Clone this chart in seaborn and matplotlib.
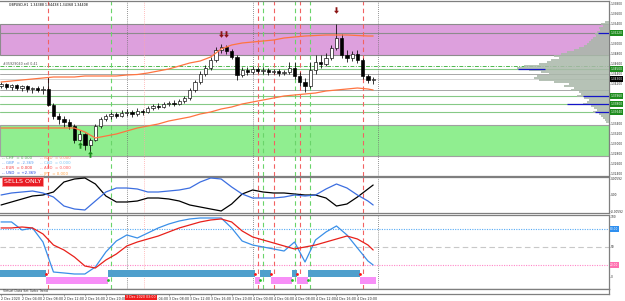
import numpy as np
import pandas as pd
import matplotlib
matplotlib.use("Agg")
import matplotlib.pyplot as plt
import seaborn as sns

# ---------------- data ----------------
bar_idx = list(range(72))
open_ = [1.3416,1.3420,1.3414,1.3418,1.3412,1.3416,1.3410,1.3412,1.3408,1.3410,
         1.3378,1.3356,1.3350,1.3344,1.3336,1.3308,1.3320,1.3298,1.3308,1.3336,
         1.3350,1.3356,1.3360,1.3356,1.3362,1.3364,1.3360,1.3366,1.3364,1.3372,
         1.3376,1.3374,1.3380,1.3382,1.3380,1.3386,1.3392,1.3408,1.3424,1.3440,
         1.3452,1.3468,1.3488,1.3494,1.3486,1.3474,1.3438,1.3448,1.3444,1.3450,
         1.3446,1.3448,1.3444,1.3446,1.3442,1.3444,1.3452,1.3436,1.3424,1.3416,
         1.3448,1.3464,1.3460,1.3472,1.3492,1.3512,1.3478,1.3472,1.3480,1.3468,
         1.3436,1.3428]
close = [1.3420,1.3414,1.3418,1.3412,1.3416,1.3410,1.3412,1.3408,1.3410,1.3378,
         1.3356,1.3350,1.3344,1.3336,1.3308,1.3320,1.3298,1.3308,1.3336,1.3350,
         1.3356,1.3360,1.3356,1.3362,1.3364,1.3360,1.3366,1.3364,1.3372,1.3376,
         1.3374,1.3380,1.3382,1.3380,1.3386,1.3392,1.3408,1.3424,1.3440,1.3452,
         1.3468,1.3488,1.3494,1.3486,1.3474,1.3438,1.3448,1.3444,1.3450,1.3446,
         1.3448,1.3444,1.3446,1.3442,1.3444,1.3452,1.3436,1.3424,1.3416,1.3448,
         1.3464,1.3460,1.3472,1.3492,1.3512,1.3478,1.3472,1.3480,1.3468,1.3436,
         1.3428,1.3430]
high = [1.3424,1.3422,1.3420,1.3420,1.3418,1.3418,1.3414,1.3416,1.3416,1.3434,
        1.3382,1.3362,1.3356,1.3350,1.3340,1.3328,1.3322,1.3312,1.3340,1.3354,
        1.3360,1.3364,1.3364,1.3368,1.3370,1.3368,1.3372,1.3370,1.3376,1.3380,
        1.3382,1.3384,1.3386,1.3388,1.3390,1.3396,1.3412,1.3428,1.3446,1.3458,
        1.3474,1.3494,1.3500,1.3498,1.3490,1.3478,1.3454,1.3454,1.3456,1.3454,
        1.3454,1.3452,1.3450,1.3450,1.3448,1.3464,1.3464,1.3444,1.3432,1.3464,
        1.3478,1.3478,1.3482,1.3498,1.3540,1.3520,1.3488,1.3486,1.3488,1.3472,
        1.3440,1.3434]
low = [1.3412,1.3410,1.3408,1.3408,1.3406,1.3404,1.3402,1.3404,1.3400,1.3376,
       1.3350,1.3340,1.3334,1.3330,1.3302,1.3306,1.3288,1.3284,1.3306,1.3332,
       1.3346,1.3350,1.3352,1.3354,1.3356,1.3354,1.3356,1.3358,1.3362,1.3368,
       1.3370,1.3372,1.3376,1.3376,1.3378,1.3382,1.3388,1.3404,1.3420,1.3436,
       1.3448,1.3464,1.3482,1.3480,1.3470,1.3428,1.3434,1.3438,1.3440,1.3442,
       1.3440,1.3438,1.3440,1.3436,1.3438,1.3440,1.3430,1.3416,1.3404,1.3412,
       1.3440,1.3452,1.3456,1.3468,1.3488,1.3472,1.3464,1.3466,1.3462,1.3430,
       1.3422,1.3420]

line_hours = [0,2,4,6,8,10,12,14,16,18,20,22,24,26,28,30,32,34,36,38,40,42,44,
              46,48,50,52,54,56,58,60,62,64,66,68,70,71]
fast_ma = [1.3424,1.3426,1.3428,1.3430,1.3432,1.3434,1.3434,1.3434,1.3436,1.3436,
           1.3436,1.3436,1.3438,1.3439,1.3442,1.3446,1.3450,1.3456,1.3462,1.3466,
           1.3474,1.3490,1.3498,1.3502,1.3504,1.3506,1.3508,1.3512,1.3514,1.3516,
           1.3517,1.3518,1.3518,1.3518,1.3517,1.3516,1.3516]
slow_ma = [1.3332,1.3332,1.3332,1.3332,1.3332,1.3332,1.3332,1.3332,1.3324,1.3312,
           1.3316,1.3320,1.3326,1.3332,1.3336,1.3340,1.3346,1.3350,1.3354,1.3360,
           1.3364,1.3370,1.3374,1.3380,1.3384,1.3388,1.3392,1.3396,1.3398,1.3400,
           1.3402,1.3406,1.3408,1.3410,1.3412,1.3410,1.3408]

# strength indicator (x 1e-3)
strength_black = [-3.33,-2.33,-1.33,-0.33,0,1.0,4.33,5.33,5.67,3.67,-0.33,-2.33,
                  -2.33,-2.0,-1.0,-1.0,-1.33,-2.0,-3.33,-4.0,-4.67,-5.33,-3.0,0.33,
                  1.67,1.0,0.67,0.67,0.33,0,0,-1.0,-3.67,-3.0,-0.67,2.0,3.33]
strength_blue = [0,0.67,1.0,1.33,0.67,-0.67,-3.67,-4.67,-5.0,-2.0,1.0,2.33,2.33,
                 2.0,1.0,1.0,1.33,1.67,2.33,4.33,5.67,5.33,2.67,0.33,-1.0,-1.0,
                 -1.0,-0.67,0,-0.33,0,2.0,3.67,2.33,0,-2.0,-3.33]

# oscillator
osc_blue = [91.7,91.7,78.3,81.7,58.3,8.3,6.7,5.0,5.0,16.7,41.7,60.0,70.0,65.0,73.3,
            81.7,88.3,93.3,96.7,98.3,98.3,98.3,81.7,60.0,53.3,50.0,46.7,43.3,58.3,
            25.0,61.7,75.0,85.0,70.0,48.3,26.7,20.0]
osc_red = [81.7,81.7,83.3,81.7,71.7,53.3,45.0,33.3,18.3,15.0,28.3,38.3,51.7,58.3,
           63.3,68.3,75.0,81.7,86.7,91.7,95.0,96.7,91.7,76.7,66.7,61.7,56.7,51.7,
           46.7,50.0,53.3,58.3,63.3,68.3,63.3,53.3,45.0]

# trend state segments (first bar, last bar, state: 1 buy / -1 sell)
seg_start = [0, 9, 21, 49, 50, 52, 56, 57, 59, 69]
seg_end   = [8, 20, 48, 49, 51, 55, 56, 58, 68, 71]
seg_state = [1, -1, 1, -1, 1, -1, 1, -1, 1, -1]
sell_bars = [9, 49, 52, 57, 69]
buy_bars = [21, 50, 56, 59]
separators = [24, 48, 72]
crosshair_hour = 27.2

up_arrow_bars = [15, 17]
up_arrow_price = [1.3297, 1.3279]
down_arrow_bars = [42, 43, 64]
down_arrow_price = [1.3520, 1.3520, 1.3568]

# volume profile
profile_levels = [1.3544,1.3540,1.3536,1.3532,1.3528,1.3524,1.3520,1.3516,1.3512,1.3508,
                  1.3504,1.3500,1.3496,1.3492,1.3488,1.3484,1.3480,1.3476,1.3472,1.3468,
                  1.3464,1.3460,1.3456,1.3452,1.3448,1.3444,1.3440,1.3436,1.3432,1.3428,
                  1.3424,1.3420,1.3416,1.3412,1.3408,1.3404,1.3400,1.3396,1.3392,1.3388,
                  1.3384,1.3380,1.3376,1.3372,1.3368,1.3364,1.3360,1.3356,1.3352,1.3348,
                  1.3344]
profile_volume = [4,8,6,10,9,12,14,13,16,18,20,22,25,30,35,42,48,55,50,58,62,70,85,92,
                  80,68,60,72,75,70,55,40,45,35,38,30,28,32,25,20,22,26,18,15,12,16,
                  10,8,6,4,3]

price_ticks = [1.3240,1.3260,1.3280,1.3300,1.3320,1.3340,1.3360,1.3380,1.3400,1.3420,
               1.3440,1.3460,1.3480,1.3500,1.3520,1.3540,1.3560,1.3580]
green_box_prices = [1.3522, 1.3450, 1.3396, 1.3380, 1.3364]
bid_price = 1.3430

time_ticks = [0,4,8,12,16,20,24,28,32,36,40,44,48,52,56,60,64,68]
time_labels = ["2 Dec 2020","2 Dec 04:00","2 Dec 08:00","2 Dec 12:00","2 Dec 16:00",
               "2 Dec 20:00","3 Dec 00:00","3 Dec 04:00","3 Dec 08:00","3 Dec 12:00",
               "3 Dec 16:00","3 Dec 20:00","4 Dec 00:00","4 Dec 04:00","4 Dec 08:00",
               "4 Dec 12:00","4 Dec 16:00","4 Dec 20:00"]

currencies_left = ["CHF", "GBP", "EUR", "USD"]
values_left = ["0.000", "-2.369", "0.000", "+2.369"]
colors_left = ["#4fae4f", "#5b9cf0", "#f03030", "#2040e0"]
currencies_right = ["NZD", "CAD", "AUD", "JPY"]
values_right = ["0.000", "0.000", "0.000", "0.000"]
colors_right = ["#ff8c60", "#7cc4f4", "#ff5a5a", "#ffa040"]

# ---------------- figure ----------------
sns.set_style("white")
plt.rcParams['font.family'] = ['DejaVu Sans']

W, H = 625, 301
fig = plt.figure(figsize=(W / 100, H / 100), dpi=100)
fig.patch.set_facecolor("white")


def pbox(top, bottom, left=0, right=609):
    return [left / W, 1 - bottom / H, (right - left) / W, (bottom - top) / H]


ax = fig.add_axes(pbox(1, 176))
ax1 = fig.add_axes(pbox(177, 213), sharex=ax)
ax2 = fig.add_axes(pbox(215, 289), sharex=ax)
ax3 = fig.add_axes(pbox(289, 294), sharex=ax)

for a in (ax, ax1, ax2, ax3):
    a.set_facecolor("white")
    a.spines['left'].set_visible(False)
    for s in ('top', 'bottom', 'right'):
        a.spines[s].set_color('#7f7f7f')
        a.spines[s].set_linewidth(0.9)
    a.yaxis.tick_right()
    a.tick_params(axis='y', labelsize=2.1, length=1.0, width=0.4, pad=0.4,
                  color='#606060')
    a.tick_params(axis='x', bottom=False, labelbottom=False)
    a.grid(False)

ax.set_xlim(-0.2, 116)

# ---- main price panel ----
ax.set_ylim(1.3236, 1.3586)
ax.axhspan(1.3478, 1.3540, facecolor='#dda0dd', edgecolor='#8c8c8c', lw=0.8, zorder=1)
ax.axhline(1.3522, color='#8c8c8c', lw=0.8, zorder=1.5)
ax.axhspan(1.3276, 1.3338, facecolor='#90ee90', edgecolor='#a0a0a0', lw=0.8, zorder=1)

hlines = [(1.3456, '#4cb84c', (0, (4, 1.5, 1, 1.5)), 0.7),
          (1.3450, '#86c986', '-', 0.8),
          (1.3440, '#a8a8a8', '-', 0.7),
          (bid_price, '#d6d6d6', '-', 0.7),
          (1.3408, '#a8a8a8', '-', 0.7),
          (1.3396, '#86c986', '-', 0.8),
          (1.3380, '#86c986', '-', 0.8),
          (1.3364, '#86c986', '-', 0.8)]
for p, col, ls, lw in hlines:
    ax.axhline(p, color=col, ls=ls, lw=lw, zorder=1.5)

# blue level markers on the right
blue_segs = [(1.3522, 113.9), (1.3396, 111.0), (1.3380, 108.0), (1.3364, 113.3)]
for p, x0 in blue_segs:
    ax.hlines(p, x0, 116, color='#1414c8', lw=0.9, zorder=7)
ax.hlines(1.3450, 98.7, 103.8, color='#1414c8', lw=0.9, zorder=7)

# volume profile
axp = ax.inset_axes([500 / 609, 0, 109 / 609, 1], sharey=ax)
axp.barh(profile_levels, profile_volume, height=0.00036, color='#a9b8a9',
         edgecolor='none', alpha=0.85)
axp.set_xlim(109, 0)
axp.patch.set_alpha(0)
axp.axis('off')

# candles
x = np.array(bar_idx, dtype=float)
o = np.array(open_)
c = np.array(close)
bull = c >= o
ax.vlines(x, low, high, color='black', lw=0.55, zorder=5)
ax.bar(x[bull], (c - o)[bull], bottom=o[bull], width=0.62, color='white',
       edgecolor='black', lw=0.45, zorder=6)
ax.bar(x[~bull], (c - o)[~bull], bottom=o[~bull], width=0.62, color='black',
       edgecolor='black', lw=0.45, zorder=6)

# moving averages
sns.lineplot(x=line_hours, y=fast_ma, ax=ax, color='#ff7440', lw=0.9, zorder=7)
sns.lineplot(x=line_hours, y=slow_ma, ax=ax, color='#ff7440', lw=0.9, zorder=7)

# arrows
up_marker = [(0, 1), (-0.75, 0.1), (-0.28, 0.1), (-0.28, -1), (0.28, -1),
             (0.28, 0.1), (0.75, 0.1), (0, 1)]
down_marker = [(px, -py) for px, py in up_marker]
ax.scatter(up_arrow_bars, up_arrow_price, marker=up_marker, s=22,
           color='#1a8a1a', zorder=8, linewidths=0)
ax.scatter(down_arrow_bars, down_arrow_price, marker=down_marker, s=22,
           color='#8b1414', zorder=8, linewidths=0)

# price axis labels
box_prices = green_box_prices + [bid_price]
shown_ticks = [t for t in price_ticks if min(abs(t - b) for b in box_prices) > 0.0009]
ax.set_yticks(shown_ticks)
ax.set_yticklabels([f"{t:.5f}" for t in shown_ticks])
ytr = ax.get_yaxis_transform()
for p in green_box_prices:
    ax.text(1.002, p, f"{p:.5f}", transform=ytr, fontsize=2.1, color='white',
            va='center', ha='left', clip_on=False, zorder=10,
            bbox=dict(boxstyle='square,pad=0.2', fc='#1e8c1e', ec='none'))
ax.text(1.002, bid_price, f"{bid_price:.5f}", transform=ytr, fontsize=2.1,
        color='white', va='center', ha='left', clip_on=False, zorder=10,
        bbox=dict(boxstyle='square,pad=0.2', fc='black', ec='none'))

# ---- strength panel ----
ax1.set_ylim(-6, 6)
sns.lineplot(x=line_hours, y=strength_black, ax=ax1, color='black', lw=0.9, zorder=5)
sns.lineplot(x=line_hours, y=strength_blue, ax=ax1, color='#3c6ee0', lw=0.9, zorder=5)
ax1.set_yticks([5.4, 0, -5.4])
ax1.set_yticklabels(["0.00592", "0.00", "-0.00592"])

# ---- oscillator panel ----
ax2.set_ylim(-20, 103.3)
ax2.axhline(80, color='#56aaf5', ls=(0, (1, 1.2)), lw=0.8, zorder=2)
ax2.axhline(50, color='#c8c8c8', ls=(0, (5, 3)), lw=0.8, zorder=2)
ax2.axhline(20, color='#ff86c8', ls=(0, (1, 1.2)), lw=0.8, zorder=2)
for s0, s1, st in zip(seg_start, seg_end, seg_state):
    xs = np.arange(s0, s1 + 1)
    if st == 1:
        ax2.bar(xs, 11.7, bottom=0, width=1.0, color='#4e9fcc', lw=0, zorder=3)
    else:
        ax2.bar(xs, 11.7, bottom=-11.7, width=1.0, color='#f78ff7', lw=0, zorder=3)
sns.lineplot(x=line_hours, y=osc_blue, ax=ax2, color='#3a8fe8', lw=0.9, zorder=5)
sns.lineplot(x=line_hours, y=osc_red, ax=ax2, color='#e8201a', lw=0.9, zorder=5)
ax2.scatter([b - 0.5 for b in sell_bars], [5.8] * len(sell_bars), s=4,
            color='#ff1010', zorder=6, linewidths=0)
ax2.scatter([b - 0.5 for b in buy_bars], [-5.8] * len(buy_bars), s=4,
            color='#20c020', zorder=6, linewidths=0)
ax2.set_yticks([100, 50, 0])
ax2.set_yticklabels(["100", "50", "0"])
ytr2 = ax2.get_yaxis_transform()
ax2.text(1.002, 80, "80.00", transform=ytr2, fontsize=2.1, color='white', va='center',
         ha='left', clip_on=False, bbox=dict(boxstyle='square,pad=0.2', fc='#2f8fef', ec='none'))
ax2.text(1.002, 20, "20.00", transform=ytr2, fontsize=2.1, color='white', va='center',
         ha='left', clip_on=False, bbox=dict(boxstyle='square,pad=0.2', fc='#ff70b0', ec='none'))

# ---- vertical lines through panels ----
for a in (ax, ax1, ax2):
    for b in sell_bars:
        a.axvline(b, color='#f26262', ls=(0, (4, 3)), lw=0.8, zorder=2)
    for b in buy_bars:
        a.axvline(b, color='#6ad46a', ls=(0, (4, 3)), lw=0.8, zorder=2)
    for s in separators:
        a.axvline(s, color='#707070', ls=(0, (1, 1.5)), lw=0.6, zorder=2)
    a.axvline(crosshair_hour, color='#ffa8a8', ls=(0, (1, 1.5)), lw=0.6, zorder=2)

# ---- bottom strip / time axis ----
ax3.set_ylim(0, 1)
ax3.set_yticks([])
ax3.set_xticks(time_ticks)
ax3.set_xticklabels(time_labels, fontsize=2.3, ha='left')
ax3.tick_params(axis='x', bottom=True, labelbottom=True, length=1.5, width=0.4,
                pad=0.8, color='#606060')
ax3.text(0.3, 0.5, "Virtual Data Set Turbo Trend", fontsize=2.3, va='center',
         ha='left', color='#404040')

fig.text(141 / W, 1 - 297.5 / H, "3 Dec 2020 03:00", fontsize=2.3, color='white',
         ha='center', va='center', zorder=20,
         bbox=dict(boxstyle='square,pad=0.25', fc='#f01c1c', ec='none'))

# ---- texts ----
fig.text(9 / W, 1 - 4.5 / H, "GBPUSD,H1  1.34388 1.34438 1.34368 1.34408",
         fontsize=2.3, va='center', ha='left', color='black')
fig.text(3 / W, 1 - 64 / H, "#35929040 sell 0.41", fontsize=2.3, va='center',
         ha='left', color='#505050')

rows_y = [158.5, 163.5, 168.5, 173.5]
for ry, cur, val, col in zip(rows_y, currencies_left, values_left, colors_left):
    fig.text(2 / W, 1 - ry / H, f"-- {cur}  = {val}", fontsize=2.8, va='center',
             ha='left', color=col)
for ry, cur, val, col in zip(rows_y, currencies_right, values_right, colors_right):
    fig.text(40 / W, 1 - ry / H, f"-- {cur}  = {val}", fontsize=2.8, va='center',
             ha='left', color=col)

fig.text(4 / W, 1 - 181.5 / H, "SELLS ONLY", fontsize=4.6, color='white',
         va='center', ha='left', zorder=20,
         bbox=dict(boxstyle='square,pad=0.25', fc='#e81c24', ec='#ff9a9a', lw=0.5))

fig.savefig("out.png", dpi=100, facecolor='white')
